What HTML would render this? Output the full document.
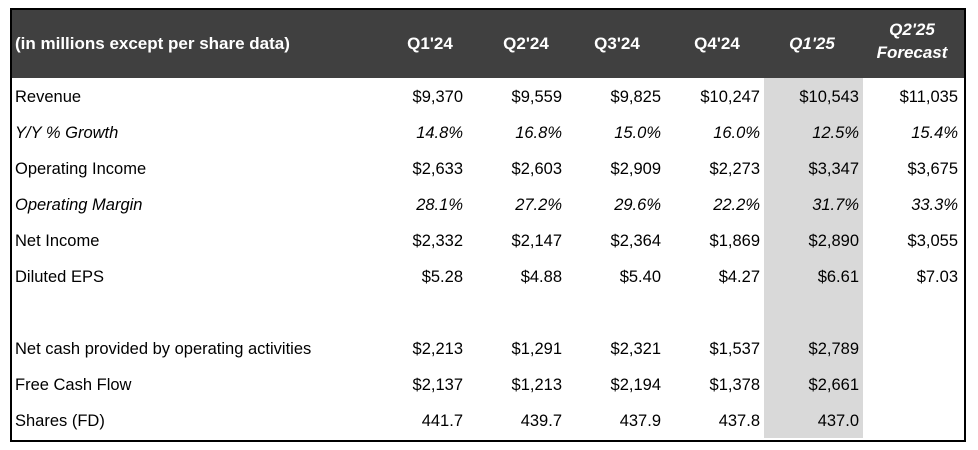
<!DOCTYPE html>
<html><head><meta charset="utf-8"><style>
body{margin:0;width:978px;height:450px;background:#fff;position:relative;overflow:hidden;font-family:"Liberation Sans",Arial,sans-serif;}
#frame{position:absolute;left:10px;top:8px;width:952px;height:430px;border:2px solid #000;}
#hdr{position:absolute;left:12px;top:10px;width:952px;height:68px;background:#404040;}
#hl{position:absolute;left:764px;top:78px;width:99px;height:360px;background:#d9d9d9;}
.t{position:absolute;font-size:16.5px;color:#000;white-space:nowrap;line-height:20px;}
.h{color:#fff;font-weight:bold;font-size:17px;}
.i{font-style:italic;}
</style></head><body>
<div id="hdr"></div>
<div id="hl"></div>
<div id="frame"></div>
<div class="t h" style="left:15px;top:34px">(in millions except per share data)</div>
<div id="root"></div>
<script>
const periods=["Q1'24","Q2'24","Q3'24","Q4'24","Q1'25","Q2'25"];
const rowLabels=["Revenue","Y/Y % Growth","Operating Income","Operating Margin","Net Income","Diluted EPS","","Net cash provided by operating activities","Free Cash Flow","Shares (FD)"];
const italicRows=[false,true,false,true,false,false,false,false,false,false];
const revenue=["$9,370","$9,559","$9,825","$10,247","$10,543","$11,035"];
const growth=["14.8%","16.8%","15.0%","16.0%","12.5%","15.4%"];
const opIncome=["$2,633","$2,603","$2,909","$2,273","$3,347","$3,675"];
const opMargin=["28.1%","27.2%","29.6%","22.2%","31.7%","33.3%"];
const netIncome=["$2,332","$2,147","$2,364","$1,869","$2,890","$3,055"];
const eps=["$5.28","$4.88","$5.40","$4.27","$6.61","$7.03"];
const blank=["","","","","",""];
const opCash=["$2,213","$1,291","$2,321","$1,537","$2,789",""];
const fcf=["$2,137","$1,213","$2,194","$1,378","$2,661",""];
const shares=["441.7","439.7","437.9","437.8","437.0",""];
const rows=[revenue,growth,opIncome,opMargin,netIncome,eps,blank,opCash,fcf,shares];
const colRight=[463,562,661,760,859,958];
const colCenter=[430,526,617,717,812,912];
const root=document.getElementById('root');
function mk(txt,cls,style){const d=document.createElement('div');d.className='t '+cls;d.textContent=txt;d.setAttribute('style',style);root.appendChild(d);return d;}
periods.forEach((p,i)=>{
  if(i===5){
    const d=mk("","h i","left:"+(colCenter[i]-50)+"px;top:18px;width:100px;text-align:center;line-height:23px");
    d.innerHTML="Q2'25<br>Forecast";
    
    
  }else{
    const d=mk(p,"h"+(i===4?" i":""),"left:"+(colCenter[i]-50)+"px;top:34px;width:100px;text-align:center");
    
    
  }
});
rowLabels.forEach((lab,r)=>{
  const y=87+r*36;
  if(lab){
    const d=mk(lab,italicRows[r]?"i":"","left:15px;top:"+y+"px");
    
    
  }
  rows[r].forEach((v,c)=>{
    if(!v)return;
    const d=mk(v,italicRows[r]?"i":"","left:"+(colRight[c]-100)+"px;top:"+y+"px;width:100px;text-align:right");
    
    
  });
});
</script>
</body></html>
